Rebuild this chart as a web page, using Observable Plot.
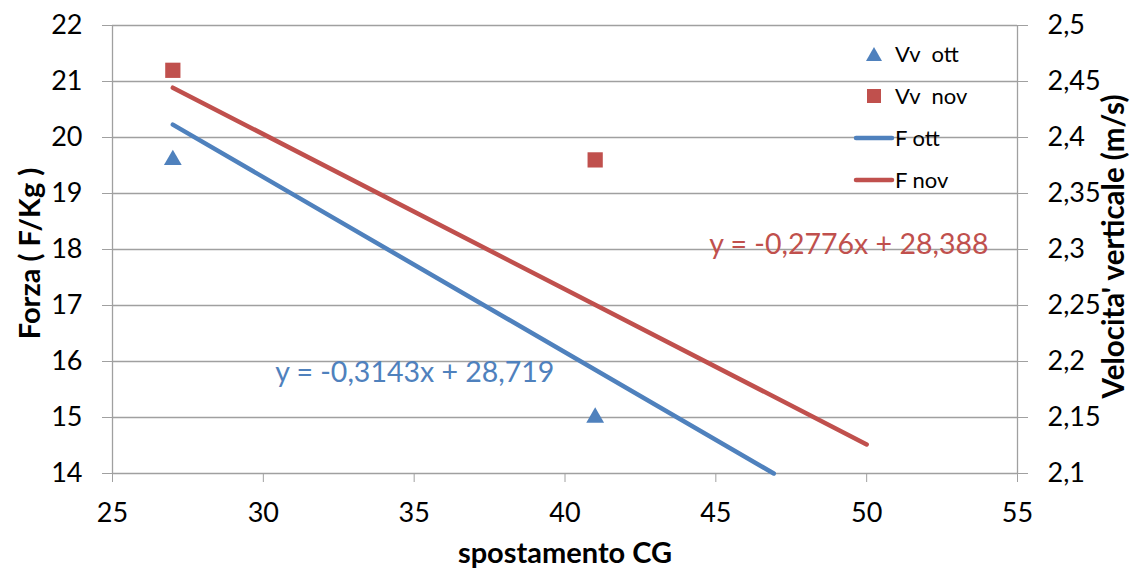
<!DOCTYPE html>
<html>
<head>
<meta charset="utf-8">
<script src="https://cdn.jsdelivr.net/npm/d3@7"></script>
<script src="https://cdn.jsdelivr.net/npm/@observablehq/plot@0.6"></script>
<style>
  body { margin: 0; background: #fff; }
  #wrap { position: relative; width: 1137px; height: 577px; font-family: Lato, "Open Sans", sans-serif; }
  .leg { position: absolute; left: 0; top: 0; font-size: 22px; color: #000; }
  .leg .item { position: absolute; white-space: pre; line-height: 1; }
</style>
</head>
<body>
<div id="wrap"></div>
<script>
// Data
const vvOttX = [27, 41];
const vvOttV = [2.38, 2.15];
const vvNovX = [27, 41];
const vvNovV = [2.46, 2.38];
const fOttX = [27, 46.92];
const fOttY = [20.23, 14.0];
const fNovX = [27, 50];
const fNovY = [20.89, 14.52];
const leftTicks = [14, 15, 16, 17, 18, 19, 20, 21, 22];
const rightTickLabels = ["2,1", "2,15", "2,2", "2,25", "2,3", "2,35", "2,4", "2,45", "2,5"];
const xTicks = [25, 30, 35, 40, 45, 50, 55];
const eqLabels = [
  {x: 35.02, y: 15.80, text: "y = -0,3143x + 28,719", color: "#4f81bd"},
  {x: 49.41, y: 18.09, text: "y = -0,2776x + 28,388", color: "#c0504d"}
];

const BLUE = "#4f81bd", RED = "#c0504d", GRID = "#a0a0a0";
// right axis (2.1–2.5) mapped onto left axis (14–22)
const toLeft = v => 14 + (v - 2.1) * 20;

const ott = vvOttX.map((x, i) => ({x, y: toLeft(vvOttV[i])}));
const nov = vvNovX.map((x, i) => ({x, y: toLeft(vvNovV[i])}));
const lineOtt = fOttX.map((x, i) => ({x, y: fOttY[i]}));
const lineNov = fNovX.map((x, i) => ({x, y: fNovY[i]}));

const chart = Plot.plot({
  width: 1137,
  height: 577,
  marginLeft: 112,
  marginRight: 120,
  marginTop: 25,
  marginBottom: 104,
  style: {fontFamily: "Lato, 'Open Sans', sans-serif", fontSize: "27px", color: "#000", background: "#fff"},
  x: {domain: [25, 55]},
  y: {domain: [14, 22]},
  marks: [
    Plot.ruleY(leftTicks, {stroke: GRID, strokeWidth: 1.3, strokeOpacity: 1}),
    Plot.ruleX([25, 55], {stroke: GRID, strokeWidth: 1.3}),
    Plot.axisY({anchor: "left", ticks: leftTicks, tickSize: 10, tickPadding: 20, stroke: GRID, strokeOpacity: 1, label: null, fontSize: 27}),
    Plot.axisY({anchor: "right", ticks: leftTicks, tickSize: 10, tickPadding: 20, stroke: GRID, strokeOpacity: 1, label: null, fontSize: 27,
      tickFormat: d => rightTickLabels[leftTicks.indexOf(d)]}),
    Plot.axisX({ticks: xTicks, tickSize: 9, tickPadding: 20, stroke: GRID, strokeOpacity: 1, label: null, fontSize: 27}),
    Plot.line(lineOtt, {x: "x", y: "y", stroke: BLUE, strokeWidth: 4.5, strokeLinecap: "round"}),
    Plot.line(lineNov, {x: "x", y: "y", stroke: RED, strokeWidth: 4.5, strokeLinecap: "round"}),
    Plot.dot(ott, {x: "x", y: "y", symbol: "triangle", r: 6.6, fill: BLUE, stroke: null}),
    Plot.dot(nov, {x: "x", y: "y", symbol: "square", r: 8.6, fill: RED, stroke: null}),
    Plot.text(eqLabels, {x: "x", y: "y", text: "text", fill: "color", fontSize: 28.5}),
    Plot.text(["Forza ( F/Kg )"], {frameAnchor: "left", textAnchor: "middle", dx: -82, dy: 4, rotate: -90, fontWeight: "bold", fontSize: 29}),
    Plot.text(["spostamento CG"], {frameAnchor: "bottom", textAnchor: "middle", dy: 89, fontWeight: "bold", fontSize: 29}),
    Plot.text(["Velocita' verticale (m/s)"], {frameAnchor: "right", textAnchor: "middle", dx: 97, dy: -3, rotate: -90, fontWeight: "bold", fontSize: 29.5})
  ]
});
const wrap = document.getElementById("wrap");
wrap.appendChild(chart);

// Legend
const legendItems = [
  {label: "Vv  ott", type: "triangle", color: BLUE},
  {label: "Vv  nov", type: "square", color: RED},
  {label: "F ott", type: "line", color: BLUE},
  {label: "F nov", type: "line", color: RED}
];
const leg = document.createElement("div");
leg.className = "leg";
legendItems.forEach((it, i) => {
  const cy = 53 + i * 42;
  const d = document.createElement("div");
  d.className = "item";
  d.style.left = "853px";
  d.style.top = (cy - 12) + "px";
  let sym = "";
  if (it.type === "triangle") sym = `<svg width="42" height="24" style="vertical-align:middle"><path d="M13,19 L21,5 L29,19 Z" fill="${it.color}"/></svg>`;
  else if (it.type === "square") sym = `<svg width="42" height="24" style="vertical-align:middle"><rect x="14" y="5" width="14" height="14" fill="${it.color}"/></svg>`;
  else sym = `<svg width="42" height="24" style="vertical-align:middle"><line x1="3" y1="12" x2="39" y2="12" stroke="${it.color}" stroke-width="4.5" stroke-linecap="round"/></svg>`;
  d.innerHTML = sym + `<span style="vertical-align:middle">${it.label}</span>`;
  leg.appendChild(d);
});
wrap.appendChild(leg);
</script>
</body>
</html>
